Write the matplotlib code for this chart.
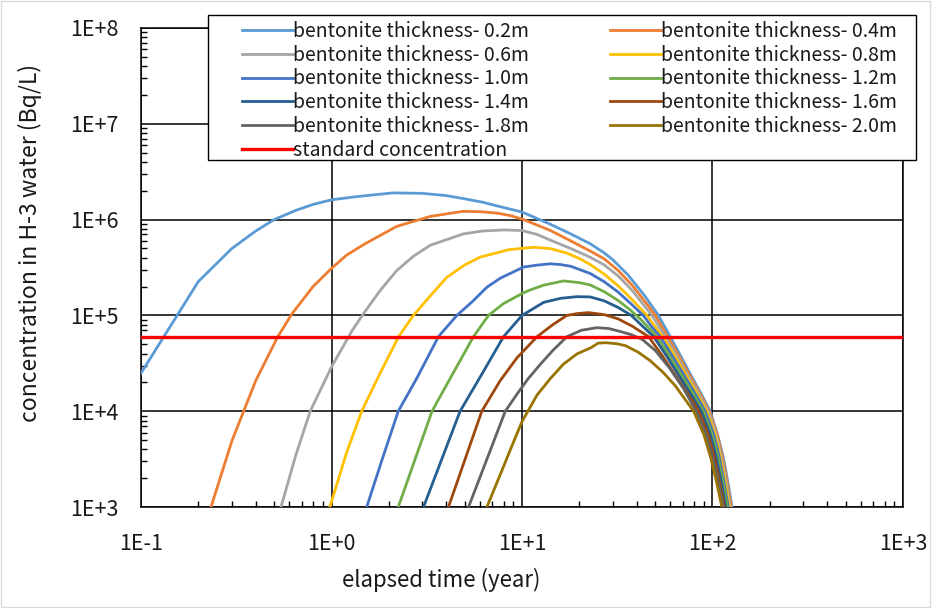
import numpy as np
import matplotlib
matplotlib.use("Agg")
from matplotlib import pyplot as plt
from matplotlib.ticker import LogLocator, FuncFormatter, NullFormatter
from matplotlib.patches import Rectangle

plt.rcParams['font.family'] = ['Noto Sans CJK JP', 'DejaVu Sans']

# --- values (elapsed time in years, concentration in Bq/L) ---
t_02 = [0.1, 0.2, 0.3, 0.4, 0.5, 0.65, 0.8, 1.0, 1.4, 2.1, 3.0, 4.0, 4.9, 6.2, 7.5, 10, 14, 18, 22.8,
        27, 30, 36, 44, 52, 60, 67.3, 75.2, 88, 97.3, 106.3, 114, 120.2, 126.6]
c_02 = [2.5e4, 2.26e5, 5.0e5, 7.6e5, 1.0e6, 1.25e6, 1.44e6, 1.61e6, 1.75e6, 1.9e6, 1.88e6, 1.78e6, 1.66e6,
        1.52e6, 1.38e6, 1.2e6, 9.0e5, 7.1e5, 5.6e5, 4.5e5, 3.8e5, 2.65e5, 1.61e5, 1.0e5, 6.0e4, 3.94e4,
        2.6e4, 1.47e4, 1.0e4, 5.7e3, 3.3e3, 1.87e3, 1.0e3]

t_04 = [0.233, 0.3, 0.4, 0.52, 0.62, 0.8, 1.0, 1.2, 1.5, 2.2, 3.3, 4.9, 6.0, 7.4, 8.7, 10.2, 14.1, 18,
        22.8, 27, 32, 38, 45, 50.1, 58.1, 65.8, 73.9, 86.8, 96.2, 106, 113, 119.1, 125.5]
c_04 = [1e3, 4.9e3, 2.08e4, 5.9e4, 1.04e5, 2.0e5, 3.1e5, 4.26e5, 5.6e5, 8.5e5, 1.08e6, 1.22e6, 1.21e6,
        1.17e6, 1.1e6, 1.0e6, 7.7e5, 6.0e5, 4.7e5, 3.9e5, 2.94e5, 2.05e5, 1.33e5, 1.0e5, 6.0e4, 3.94e4,
        2.6e4, 1.47e4, 1.0e4, 5.7e3, 3.3e3, 1.87e3, 1.0e3]

t_06 = [0.543, 0.65, 0.773, 1.0, 1.28, 1.47, 1.8, 2.2, 2.7, 3.3, 4.93, 6.2, 8.0, 10, 12, 14.1, 18, 22.8,
        27, 32, 38, 45, 48.1, 56.5, 64.3, 72.4, 85.6, 95.0, 104.8, 111.7, 117.7, 124]
c_06 = [1e3, 3.5e3, 1e4, 2.9e4, 6.9e4, 1.04e5, 1.82e5, 2.94e5, 4.17e5, 5.4e5, 7.1e5, 7.6e5, 7.8e5, 7.7e5,
        7.0e5, 6.1e5, 5.0e5, 4.05e5, 3.37e5, 2.58e5, 1.81e5, 1.18e5, 1.0e5, 6.0e4, 3.94e4, 2.6e4,
        1.47e4, 1.0e4, 5.7e3, 3.3e3, 1.87e3, 1.0e3]

t_08 = [0.98, 1.2, 1.44, 1.8, 2.25, 2.69, 3.3, 4.03, 5.0, 6.03, 8.5, 11.5, 14.1, 17.2, 20, 22.8, 27, 32,
        38, 45.3, 50, 54.9, 62.5, 70.8, 83.8, 93.3, 103.2, 110, 116.3, 122.5]
c_08 = [1e3, 3.7e3, 1e4, 2.5e4, 6e4, 1e5, 1.6e5, 2.5e5, 3.36e5, 4.06e5, 4.85e5, 5.15e5, 4.98e5, 4.47e5,
        3.93e5, 3.4e5, 2.7e5, 2.03e5, 1.45e5, 1.0e5, 7.6e4, 6.0e4, 3.94e4, 2.6e4, 1.47e4, 1.0e4,
        5.7e3, 3.3e3, 1.87e3, 1.0e3]

t_10 = [1.53, 1.85, 2.24, 2.8, 3.64, 4.55, 5.5, 6.54, 7.7, 10.2, 12, 14.1, 16, 18, 22.8, 27, 32, 38,
        43.3, 48, 53.2, 60.7, 69.0, 82.0, 91.6, 101.6, 108.6, 114.7, 121]
c_10 = [1e3, 3.2e3, 1e4, 2.2e4, 6e4, 1e5, 1.4e5, 1.97e5, 2.45e5, 3.2e5, 3.35e5, 3.46e5, 3.39e5, 3.26e5,
        2.74e5, 2.25e5, 1.75e5, 1.28e5, 1.0e5, 7.6e4, 6.0e4, 3.94e4, 2.6e4, 1.47e4, 1.0e4, 5.7e3,
        3.3e3, 1.87e3, 1.0e3]

t_12 = [2.24, 3.37, 4.3, 5.56, 6.67, 8, 10, 11, 13, 16.5, 20, 22.8, 27, 32, 37, 42, 51.1, 58.6, 66.8,
        79.9, 89.5, 99.5, 106.8, 113.1, 119.6]
c_12 = [1e3, 1e4, 2.4e4, 6e4, 1e5, 1.33e5, 1.69e5, 1.84e5, 2.07e5, 2.29e5, 2.2e5, 2.08e5, 1.77e5,
        1.43e5, 1.14e5, 9.1e4, 6.0e4, 3.94e4, 2.6e4, 1.47e4, 1.0e4, 5.7e3, 3.3e3, 1.87e3, 1.0e3]

t_14 = [3.04, 4.73, 6.2, 8.0, 10, 13, 16, 19.4, 22.8, 27, 32, 37.5, 43, 49.1, 56.6, 64.6, 77.6, 87.3,
        97.4, 104.6, 110.9, 117.5]
c_14 = [1e3, 1e4, 2.5e4, 6e4, 1e5, 1.37e5, 1.51e5, 1.57e5, 1.56e5, 1.42e5, 1.21e5, 1.0e5, 7.7e4, 6.0e4,
        3.94e4, 2.6e4, 1.47e4, 1.0e4, 5.7e3, 3.3e3, 1.87e3, 1.0e3]

t_16 = [4.11, 6.15, 7.7, 9.4, 12, 14.5, 17.2, 19.5, 22.3, 27, 32, 38, 46.2, 53.8, 61.9, 75.1, 84.7,
        95.0, 102.2, 108.7, 115.4]
c_16 = [1e3, 1e4, 2.1e4, 3.6e4, 6e4, 8.0e4, 1e5, 1.045e5, 1.07e5, 1.02e5, 9.2e4, 7.7e4, 6.0e4, 3.94e4,
        2.6e4, 1.47e4, 1.0e4, 5.7e3, 3.3e3, 1.87e3, 1.0e3]

t_18 = [5.24, 8.17, 9.5, 10.8, 12.5, 14.5, 17.2, 20.5, 24.7, 28.5, 32.8, 37.5, 42.9, 50.1, 59.3, 70,
        82.2, 92.6, 100.2, 107, 114]
c_18 = [1e3, 1e4, 1.55e4, 2.2e4, 3.1e4, 4.3e4, 6.0e4, 7.0e4, 7.45e4, 7.3e4, 6.8e4, 6.3e4, 5.6e4, 4.3e4,
        2.85e4, 1.76e4, 1.0e4, 5.7e3, 3.3e3, 1.87e3, 1.0e3]

t_20 = [6.54, 7.7, 8.7, 10, 12, 14.1, 16.5, 19.4, 23, 25.1, 27.5, 31.6, 35, 40.6, 47.1, 55, 63.7, 79.6,
        90.1, 97.8, 104.8, 112]
c_20 = [1e3, 2.2e3, 4.0e3, 7.8e3, 1.48e4, 2.2e4, 3.1e4, 3.96e4, 4.6e4, 5.14e4, 5.19e4, 5.06e4, 4.83e4,
        4.15e4, 3.37e4, 2.55e4, 1.85e4, 1.0e4, 5.7e3, 3.3e3, 1.87e3, 1.0e3]

thickness = ['0.2', '0.4', '0.6', '0.8', '1.0', '1.2', '1.4', '1.6', '1.8', '2.0']
std_level = 6.0e4
x_range = [0.1, 1000]

series_t = [t_02, t_04, t_06, t_08, t_10, t_12, t_14, t_16, t_18, t_20]
series_c = [c_02, c_04, c_06, c_08, c_10, c_12, c_14, c_16, c_18, c_20]
colors = ['#5B9BD5', '#ED7D31', '#A5A5A5', '#FFC000', '#4472C4',
          '#70AD47', '#255E91', '#9E480E', '#636363', '#997300']

fig = plt.figure(figsize=(9.37, 6.08), dpi=100)
ax = fig.add_axes([0.1505, 0.166, 0.8132, 0.788])

handles = []
for t, c, col, th in zip(series_t, series_c, colors, thickness):
    h, = ax.plot(t, c, color=col, lw=2.0, label='bentonite thickness- %sm' % th,
                 zorder=3, solid_joinstyle='round')
    handles.append(h)
h_std, = ax.plot(x_range, [std_level, std_level], color='#FF0000', lw=2.4,
                 label='standard concentration', zorder=4)

ax.set_xscale('log')
ax.set_yscale('log')
ax.set_xlim(0.1, 1000)
ax.set_ylim(1e3, 1e8)

fmt = FuncFormatter(lambda v, _: '1E%+d' % int(round(np.log10(v))))
ax.xaxis.set_major_formatter(fmt)
ax.yaxis.set_major_formatter(fmt)
ax.xaxis.set_minor_locator(LogLocator(base=10, subs=np.arange(2, 10)))
ax.yaxis.set_minor_locator(LogLocator(base=10, subs=np.arange(2, 10)))
ax.xaxis.set_minor_formatter(NullFormatter())
ax.yaxis.set_minor_formatter(NullFormatter())
ax.tick_params(which='major', length=0, labelsize=15.5, colors='#1a1a1a')
ax.tick_params(axis='x', which='major', pad=19)
ax.tick_params(axis='y', which='major', pad=16)
ax.tick_params(which='minor', direction='in', length=4.5, width=1.0)

ax.grid(True, which='major', color='black', lw=1.1, zorder=1)
for s in ax.spines.values():
    s.set_color('black')
    s.set_linewidth(1.1)

ax.set_xlabel('elapsed time (year)', fontsize=16, color='#1a1a1a', va='center')
ax.xaxis.set_label_coords(0.394, -0.152)
ax.set_ylabel('concentration in H-3 water (Bq/L)', fontsize=16.5, color='#1a1a1a', va='center')
ax.yaxis.set_label_coords(-0.146, 0.551)

# white legend box like the Excel chart
box = Rectangle((208 / 937, 1 - 160 / 608), (916 - 208) / 937, (160 - 15) / 608,
                transform=fig.transFigure, facecolor='white', edgecolor='black',
                lw=1.0, zorder=5, clip_on=False)
ax.add_artist(box)

col1 = [handles[i] for i in [0, 2, 4, 6, 8]] + [h_std]
col2 = [handles[i] for i in [1, 3, 5, 7, 9]]
leg_kw = dict(loc='upper left', bbox_transform=fig.transFigure, frameon=False, fontsize=14,
              handlelength=2.6, handletextpad=0.0, labelspacing=0.14, borderpad=0.0,
              borderaxespad=0.0)
leg1 = ax.legend(col1, [h.get_label() for h in col1], bbox_to_anchor=(242 / 937, 1 - 21 / 608), **leg_kw)
leg1.set_zorder(6)
ax.add_artist(leg1)
leg2 = ax.legend(col2, [h.get_label() for h in col2], bbox_to_anchor=(610 / 937, 1 - 21 / 608), **leg_kw)
leg2.set_zorder(6)
for lg in (leg1, leg2):
    for txt in lg.get_texts():
        txt.set_color('#1a1a1a')

# light grey chart-area border
fig.add_artist(Rectangle((0.001, 0.001), 929 / 937, 0.997, transform=fig.transFigure,
                         fill=False, edgecolor='#D9D9D9', lw=1.0))

fig.savefig('out.png', dpi=100)
plt.close(fig)
